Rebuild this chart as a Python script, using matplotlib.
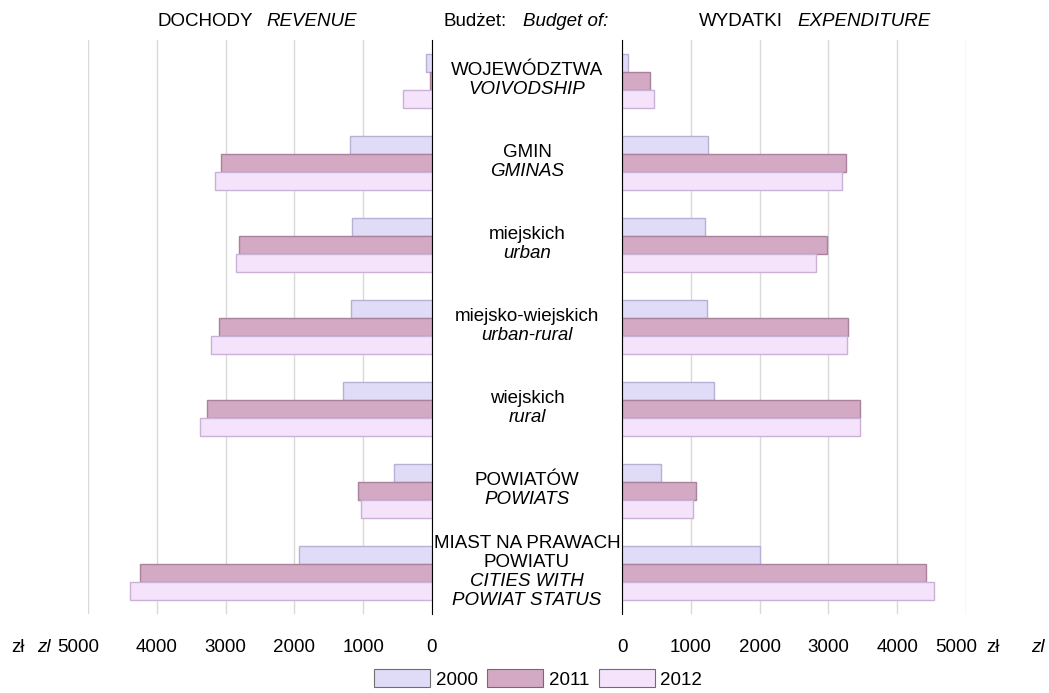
import numpy as np
import matplotlib
matplotlib.use("Agg")
import matplotlib.pyplot as plt
from matplotlib.transforms import ScaledTranslation, blended_transform_factory
from matplotlib.patches import Patch

plt.rcParams['font.family'] = ['Liberation Sans', 'DejaVu Sans']

# Data (zł per capita)
categories = [("WOJEWÓDZTWA", "VOIVODSHIP"),
              ("GMIN", "GMINAS"),
              ("miejskich", "urban"),
              ("miejsko-wiejskich", "urban-rural"),
              ("wiejskich", "rural"),
              ("POWIATÓW", "POWIATS"),
              ("MIAST NA PRAWACH\nPOWIATU", "CITIES WITH\nPOWIAT STATUS")]
years = ["2000", "2011", "2012"]
revenue_2000 = [87, 1190, 1162, 1177, 1293, 552, 1932]
revenue_2011 = [30, 3065, 2799, 3090, 3269, 1070, 4237]
revenue_2012 = [420, 3153, 2843, 3211, 3370, 1031, 4387]
expenditure_2000 = [93, 1255, 1211, 1240, 1337, 572, 2006]
expenditure_2011 = [402, 3260, 2984, 3290, 3454, 1071, 4419]
expenditure_2012 = [472, 3203, 2825, 3270, 3459, 1037, 4540]
ticks = [0, 1000, 2000, 3000, 4000, 5000]

fills = ["#E0DCF8", "#D3A9C3", "#F5E3FC"]
edges = ["#B9B0D6", "#A9829C", "#C9B2D6"]

fig = plt.figure(figsize=(10.49, 6.93), dpi=100)
W, H = 1049, 693
axL = fig.add_axes([88 / W, 1 - 614 / H, 344 / W, 574 / H])
axR = fig.add_axes([622 / W, 1 - 614 / H, 344 / W, 574 / H])

n = len(categories)
y = np.arange(n)
bh = 0.223
offs = [-bh, 0, bh]

rev = [revenue_2000, revenue_2011, revenue_2012]
exp_ = [expenditure_2000, expenditure_2011, expenditure_2012]

FS = 13.5
for ax, data in ((axL, rev), (axR, exp_)):
    for i in range(3):
        ax.barh(y + offs[i], data[i], height=bh, color=fills[i],
                edgecolor=edges[i], linewidth=1, zorder=3)
    ax.set_ylim(n - 0.5, -0.5)
    ax.set_yticks([])
    ax.set_xticks(ticks)
    ax.tick_params(axis='x', length=0, labelbottom=False)
    ax.grid(axis='x', color='#D9D9D9', linewidth=1, zorder=0)
    for s in ax.spines.values():
        s.set_visible(False)

axL.set_xlim(5000, 0)
axR.set_xlim(0, 5000)
axL.spines['right'].set_visible(True)
axL.spines['right'].set_color('black')
axL.spines['right'].set_zorder(5)
axR.spines['left'].set_visible(True)
axR.spines['left'].set_color('black')
axR.spines['left'].set_zorder(5)

# tick labels
for ax in (axL, axR):
    tr = blended_transform_factory(ax.transData, ax.transAxes)
    for t in ticks:
        dx = -10 if t == 5000 else 0
        ax.text(t, 0, str(t), fontsize=FS, ha='center', va='center',
                transform=tr + ScaledTranslation(dx / 100, -34 / 100, fig.dpi_scale_trans))

ty = 1 - 648 / H
fig.text(18 / W, ty, "zł", fontsize=FS, ha='center', va='center')
fig.text(44 / W, ty, "zl", fontsize=FS, style='italic', ha='center', va='center')
fig.text(993 / W, ty, "zł", fontsize=FS, ha='center', va='center')
fig.text(1038 / W, ty, "zl", fontsize=FS, style='italic', ha='center', va='center')

# center category labels
cx = 527 / W
trc = blended_transform_factory(fig.transFigure, axL.transData)
lh = 19
for i, (pl, en) in enumerate(categories):
    pl_lines = pl.split("\n")
    en_lines = en.split("\n")
    total = len(pl_lines) + len(en_lines)
    start = -(total - 1) * lh / 2
    k = 0
    for ln in pl_lines:
        fig.text(cx, i, ln, fontsize=FS, ha='center', va='center',
                 transform=trc + ScaledTranslation(0, -(start + k * lh - 1) / 100, fig.dpi_scale_trans))
        k += 1
    for ln in en_lines:
        fig.text(cx, i, ln, fontsize=FS, style='italic', ha='center', va='center',
                 transform=trc + ScaledTranslation(0, -(start + k * lh - 1) / 100, fig.dpi_scale_trans))
        k += 1

# header
hy = 1 - 22 / H
fig.text(205 / W, hy, "DOCHODY", fontsize=FS, ha='center', va='center')
fig.text(312 / W, hy, "REVENUE", fontsize=FS, style='italic', ha='center', va='center')
fig.text(475 / W, hy, "Budżet:", fontsize=FS, ha='center', va='center')
fig.text(566 / W, hy, "Budget of:", fontsize=FS, style='italic', ha='center', va='center')
fig.text(741 / W, hy, "WYDATKI", fontsize=FS, ha='center', va='center')
fig.text(864 / W, hy, "EXPENDITURE", fontsize=FS, style='italic', ha='center', va='center')

handles = [Patch(facecolor=fills[i], edgecolor='#6E6E6E', linewidth=0.8, label=years[i]) for i in range(3)]
fig.legend(handles=handles, loc='center', bbox_to_anchor=(538 / W, 1 - 679 / H), ncol=3,
           frameon=False, fontsize=FS, handlelength=3.0, handleheight=1.1,
           handletextpad=0.3, columnspacing=0.5, borderpad=0)

fig.savefig("out.png", dpi=100)
